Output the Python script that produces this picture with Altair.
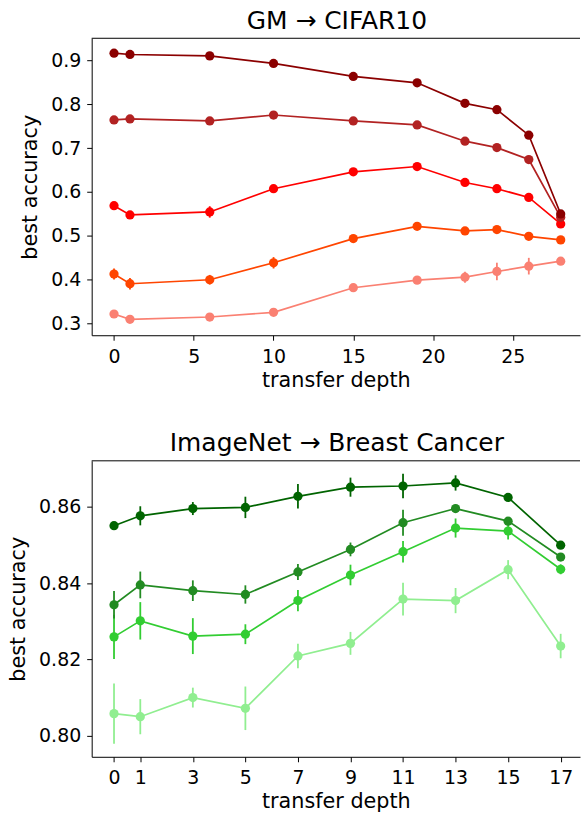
import altair as alt
import pandas as pd

FONT = "DejaVu Sans"

# ---------------- GM -> CIFAR10 ----------------
top_title = "GM → CIFAR10"
top_x = [0, 1, 6, 10, 15, 19, 22, 24, 26, 28]
top_names = ["s1", "s2", "s3", "s4", "s5"]
top_colors = ["#8B0000", "#B22222", "#FF0000", "#FF4500", "#FA8072"]
top_s1 = [0.9166, 0.9137, 0.9105, 0.8932, 0.8636, 0.8490, 0.8022, 0.7876, 0.7294, 0.5496]
top_s2 = [0.7642, 0.7665, 0.7619, 0.7755, 0.7619, 0.7528, 0.7157, 0.7011, 0.6738, 0.5419]
top_s3 = [0.5685, 0.5473, 0.5542, 0.6072, 0.6458, 0.6579, 0.6215, 0.6072, 0.5874, 0.5268]
top_s4 = [0.4124, 0.3903, 0.3994, 0.4381, 0.4934, 0.5214, 0.5109, 0.5139, 0.4986, 0.4904]
top_s5 = [0.3212, 0.3091, 0.3143, 0.3250, 0.3812, 0.3985, 0.4053, 0.4183, 0.4304, 0.4418]
top_e1 = [0.003, 0.003, 0.003, 0.003, 0.003, 0.003, 0.003, 0.003, 0.004, 0.004]
top_e2 = [0.003, 0.003, 0.003, 0.003, 0.003, 0.003, 0.003, 0.003, 0.004, 0.004]
top_e3 = [0.004, 0.004, 0.013, 0.005, 0.004, 0.004, 0.004, 0.004, 0.004, 0.004]
top_e4 = [0.0125, 0.013, 0.011, 0.013, 0.005, 0.005, 0.005, 0.005, 0.005, 0.004]
top_e5 = [0.004, 0.004, 0.004, 0.005, 0.005, 0.005, 0.0125, 0.020, 0.019, 0.004]
top_xticks = [0, 5, 10, 15, 20, 25]
top_yticks = [0.3, 0.4, 0.5, 0.6, 0.7, 0.8, 0.9]

# ---------------- ImageNet -> Breast Cancer ----------------
bot_title = "ImageNet → Breast Cancer"
bot_x = [0, 1, 3, 5, 7, 9, 11, 13, 15, 17]
bot_names = ["a", "b", "c", "d"]
bot_colors = ["#006400", "#228B22", "#32CD32", "#90EE90"]
bot_a = [0.8550, 0.8576, 0.8595, 0.8598, 0.8627, 0.8651, 0.8654, 0.8662, 0.8624, 0.8499]
bot_b = [0.8343, 0.8395, 0.8380, 0.8370, 0.8429, 0.8488, 0.8558, 0.8595, 0.8562, 0.8468]
bot_c = [0.8259, 0.8301, 0.8261, 0.8266, 0.8354, 0.8421, 0.8482, 0.8544, 0.8536, 0.8436]
bot_d = [0.8058, 0.8050, 0.8100, 0.8072, 0.8209, 0.8242, 0.8358, 0.8354, 0.8435, 0.8235]
bot_ea = [0.0010, 0.0025, 0.0017, 0.0028, 0.0032, 0.0025, 0.0032, 0.0020, 0.0008, 0.0008]
bot_eb = [0.0036, 0.0035, 0.0027, 0.0024, 0.0021, 0.0018, 0.0034, 0.0010, 0.0008, 0.0010]
bot_ec = [0.0058, 0.0049, 0.0047, 0.0026, 0.0028, 0.0027, 0.0028, 0.0025, 0.0022, 0.0013]
bot_ed = [0.0079, 0.0046, 0.0026, 0.0057, 0.0032, 0.0030, 0.0043, 0.0033, 0.0025, 0.0032]
bot_xticks = [0, 1, 3, 5, 7, 9, 11, 13, 15, 17]
bot_yticks = [0.80, 0.82, 0.84, 0.86]

PLOT_W = 490


def make_df(xs, names, series, errs):
    rows = []
    for name, ys, es in zip(names, series, errs):
        for x, y, e in zip(xs, ys, es):
            rows.append({"s": name, "x": x, "y": y, "lo": y - e, "hi": y + e})
    return pd.DataFrame(rows)


def panel(xs, names, colors, series, errs, xdom, ydom, xticks, yticks, yfmt, title, h):
    df = make_df(xs, names, series, errs)
    xscale = alt.Scale(domain=xdom, nice=False, zero=False)
    yscale = alt.Scale(domain=ydom, nice=False, zero=False)
    xaxis = alt.Axis(values=xticks, format="d", title="transfer depth")
    yaxis = alt.Axis(values=yticks, format=yfmt, title="best accuracy")
    xenc = alt.X("x:Q", scale=xscale, axis=xaxis)
    base = alt.Chart(df)
    layers = []
    for name, color in reversed(list(zip(names, colors))):
        sub = base.transform_filter(alt.datum.s == name)
        layers.append(
            sub.mark_rule(color=color, strokeWidth=1.8).encode(
                x=xenc, y=alt.Y("lo:Q", scale=yscale, axis=yaxis), y2="hi:Q"
            )
        )
        layers.append(
            sub.mark_line(color=color, strokeWidth=1.7).encode(
                x=xenc, y=alt.Y("y:Q", scale=yscale, axis=yaxis)
            )
        )
        layers.append(
            sub.mark_circle(color=color, size=86, opacity=1).encode(
                x=xenc, y=alt.Y("y:Q", scale=yscale, axis=yaxis)
            )
        )
    topline = alt.Chart(pd.DataFrame({"d": [0]})).mark_rule(
        color="black", strokeWidth=1
    ).encode(x=alt.value(0), x2=alt.value(PLOT_W), y=alt.value(0))
    layers.append(topline)
    return alt.layer(*layers).properties(
        width=PLOT_W,
        height=h,
        title=alt.TitleParams(
            text=title, fontSize=25, font=FONT, fontWeight="normal",
            color="black", offset=-16, baseline="alphabetic", anchor="middle", dx=1,
        ),
    )


top = panel(top_x, top_names, top_colors, [top_s1, top_s2, top_s3, top_s4, top_s5],
            [top_e1, top_e2, top_e3, top_e4, top_e5], [-1.4, 29.21], [0.2727, 0.9507],
            top_xticks, top_yticks, ".1f", top_title, 298)
bot = panel(bot_x, bot_names, bot_colors, [bot_a, bot_b, bot_c, bot_d],
            [bot_ea, bot_eb, bot_ec, bot_ed], [-0.85, 17.736], [0.7945, 0.8720],
            bot_xticks, bot_yticks, ".2f", bot_title, 297)

chart = alt.vconcat(top, bot, spacing=41).properties(
    padding={"left": 7, "top": 7, "right": 0, "bottom": 0}
).configure_view(stroke=None).configure_axis(
    grid=False, domainColor="black", domainWidth=1, tickColor="black", tickSize=5,
    tickWidth=1, labelColor="black", labelFont=FONT, labelFontSize=19,
    labelPadding=6, titleFont=FONT, titleFontSize=20.8, titleFontWeight="normal",
    titleColor="black",
).configure_axisX(labelPadding=7, titlePadding=4).configure_axisY(titlePadding=10)

chart.save("out.html", embed_options={"renderer": "svg", "actions": False})
